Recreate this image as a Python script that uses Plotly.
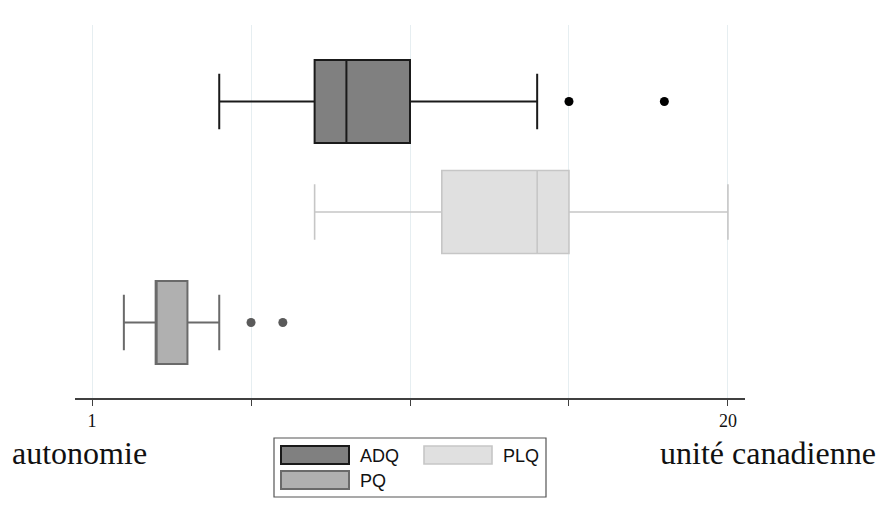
import plotly.graph_objects as go

# ---- data ----
parties = ["ADQ", "PLQ", "PQ"]
positions = [2, 1, 0]
lower_whisker = [4.8, 7.65, 1.95]
q1_vals = [7.65, 11.45, 2.9]
median_vals = [8.6, 14.3, 2.9]
q3_vals = [10.5, 15.25, 3.85]
upper_whisker = [14.3, 20.0, 4.8]
outliers = {"ADQ": [15.25, 18.1], "PLQ": [], "PQ": [5.75, 6.7]}
tick_vals = [1, 5.75, 10.5, 15.25, 20]
tick_text = ["1", "", "", "", "20"]
left_label = "autonomie"
right_label = "unité canadienne"

# ---- styles ----
fills = {"ADQ": "#808080", "PLQ": "#e0e0e0", "PQ": "#b0b0b0"}
lines = {"ADQ": "#1a1a1a", "PLQ": "#c6c6c6", "PQ": "#6a6a6a"}
lwidth = {"ADQ": 2, "PLQ": 1.6, "PQ": 2}
dotcol = {"ADQ": "#000000", "PLQ": "#c6c6c6", "PQ": "#5a5a5a"}

W, H = 881, 518
L, R, T, B = 75, 745, 25, 398


def px(X):
    return (X - L) / (R - L)


def py(Y):
    return (B - Y) / (B - T)


fig = go.Figure()
for i, p in enumerate(parties):
    fig.add_trace(go.Box(
        y=[positions[i]], orientation="h",
        q1=[q1_vals[i]], median=[median_vals[i]], q3=[q3_vals[i]],
        lowerfence=[lower_whisker[i]], upperfence=[upper_whisker[i]],
        width=0.75, whiskerwidth=0.67, boxpoints=False,
        fillcolor=fills[p], line=dict(color=lines[p], width=lwidth[p]),
        name=p, showlegend=False, hoverinfo="skip",
    ))
    if outliers[p]:
        fig.add_trace(go.Scatter(
            x=outliers[p], y=[positions[i]] * len(outliers[p]), mode="markers",
            marker=dict(color=dotcol[p], size=9), showlegend=False, hoverinfo="skip",
        ))

shapes = []
annotations = []
# custom legend
shapes.append(dict(type="rect", xref="paper", yref="paper",
                   x0=px(274), x1=px(546), y0=py(497), y1=py(438),
                   line=dict(color="#555555", width=1.2), fillcolor="white"))
leg_pos = {"ADQ": (281, 446), "PLQ": (424, 446), "PQ": (281, 471)}
for p in parties:
    X, Y = leg_pos[p]
    shapes.append(dict(type="rect", xref="paper", yref="paper",
                       x0=px(X), x1=px(X + 68), y0=py(Y + 18), y1=py(Y),
                       line=dict(color=lines[p], width=lwidth[p]), fillcolor=fills[p]))
    annotations.append(dict(xref="paper", yref="paper", x=px(X + 77), y=py(Y + 10),
                            xanchor="left", yanchor="middle", showarrow=False, text=p,
                            font=dict(family="Liberation Sans, Arial", size=18, color="#111")))

annotations.append(dict(xref="paper", yref="paper", x=px(79), y=py(453),
                        xanchor="center", yanchor="middle", showarrow=False, text=left_label,
                        font=dict(family="Liberation Serif, Times New Roman", size=32, color="#111")))
annotations.append(dict(xref="paper", yref="paper", x=px(768), y=py(453),
                        xanchor="center", yanchor="middle", showarrow=False, text=right_label,
                        font=dict(family="Liberation Serif, Times New Roman", size=32, color="#111")))

fig.update_layout(
    width=W, height=H,
    margin=dict(l=L, r=W - R, t=T, b=H - B, pad=0),
    paper_bgcolor="white", plot_bgcolor="white",
    shapes=shapes, annotations=annotations,
    xaxis=dict(range=[0.49, 20.51], tickvals=tick_vals, ticktext=tick_text,
               showgrid=True, gridcolor="#e6eef1", gridwidth=1, zeroline=False,
               showline=True, linecolor="#404040", linewidth=1.5,
               ticks="outside", ticklen=6, tickcolor="#404040", tickwidth=1,
               tickfont=dict(family="Liberation Serif, Times New Roman", size=18, color="#111")),
    yaxis=dict(range=[-0.683, 2.692], visible=False, showgrid=False, zeroline=False),
)

fig.write_html("out.html")
